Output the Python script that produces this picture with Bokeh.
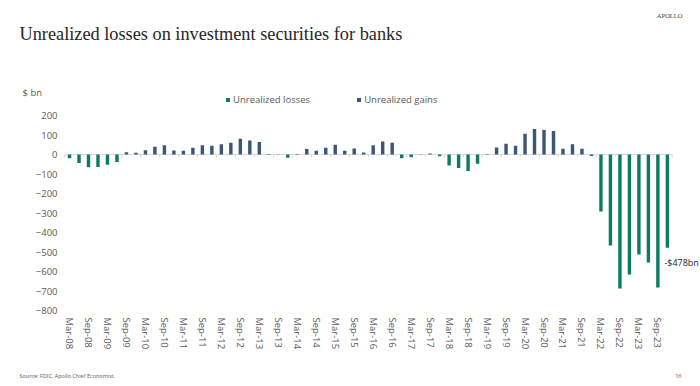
from bokeh.plotting import figure
from bokeh.layouts import column, row
from bokeh.models import (ColumnDataSource, Range1d, FixedTicker, Label, Legend,
                          LegendItem)
from bokeh.embed import file_html
from bokeh.resources import INLINE

# ---------------- data ----------------
quarters = [
    "Mar-08", "Jun-08", "Sep-08", "Dec-08", "Mar-09", "Jun-09", "Sep-09", "Dec-09",
    "Mar-10", "Jun-10", "Sep-10", "Dec-10", "Mar-11", "Jun-11", "Sep-11", "Dec-11",
    "Mar-12", "Jun-12", "Sep-12", "Dec-12", "Mar-13", "Jun-13", "Sep-13", "Dec-13",
    "Mar-14", "Jun-14", "Sep-14", "Dec-14", "Mar-15", "Jun-15", "Sep-15", "Dec-15",
    "Mar-16", "Jun-16", "Sep-16", "Dec-16", "Mar-17", "Jun-17", "Sep-17", "Dec-17",
    "Mar-18", "Jun-18", "Sep-18", "Dec-18", "Mar-19", "Jun-19", "Sep-19", "Dec-19",
    "Mar-20", "Jun-20", "Sep-20", "Dec-20", "Mar-21", "Jun-21", "Sep-21", "Dec-21",
    "Mar-22", "Jun-22", "Sep-22", "Dec-22", "Mar-23", "Jun-23", "Sep-23", "Dec-23",
]
unrealized = [
    -19, -43, -65, -64, -52, -38, 12, 9,
    22, 40, 47, 21, 19, 34, 48, 45,
    53, 60, 81, 72, 64, 2, -1, -17,
    -2, 28, 19, 34, 50, 19, 31, 10,
    47, 67, 60, -19, -14, -1, 5, -9,
    -57, -69, -84, -47, -3, 36, 55, 45,
    107, 131, 126, 121, 29, 53, 29, -8,
    -292, -467, -687, -615, -513, -554, -682, -478,
]
y_ticks = [200, 100, 0, -100, -200, -300, -400, -500, -600, -700, -800]
series_names = ["Unrealized losses", "Unrealized gains"]
title_text = "Unrealized losses on investment securities for banks"
end_label = "-$478bn"
unit_label = "$ bn"
source_text = "Source: FDIC, Apollo Chief Economist."
brand_text = "APOLLO"
page_no = "16"

GREEN = "#0E7B60"
NAVY = "#3B5677"
GREY = "#595959"
FONT = "Open Sans"
SERIF = "Liberation Serif"
W = 700

idx = list(range(len(quarters)))
n = len(quarters)
loss_src = ColumnDataSource(dict(
    x=[i for i in idx if unrealized[i] < 0],
    top=[v for v in unrealized if v < 0]))
gain_src = ColumnDataSource(dict(
    x=[i for i in idx if unrealized[i] >= 0],
    top=[v for v in unrealized if v >= 0]))


def blank(height, y0):
    """Axis-less strip whose data coordinates equal page pixels."""
    f = figure(width=W, height=height, output_backend="svg", toolbar_location=None,
               x_range=Range1d(0, W), y_range=Range1d(y0 + height, y0),
               x_axis_type=None, y_axis_type=None, min_border=0,
               outline_line_color=None, background_fill_color="white",
               border_fill_color="white")
    f.grid.visible = False
    return f


def txt(f, text, x, y, size, font=FONT, color=GREY, align="left",
        baseline="middle"):
    f.add_layout(Label(x=x, y=y, text=text, text_font=font, text_font_size=size,
                       text_color=color, text_align=align,
                       text_baseline=baseline))


# ---------------- header strip (page y 0..107) ----------------
top = blank(107, 0)
txt(top, title_text, 19, 33, "18.3px", font=SERIF, color="#262626")
txt(top, brand_text, 682, 15, "6.5px", font=SERIF, color="#404040", align="right")
txt(top, unit_label, 22, 92, "9.5px")
# legend swatches come from the same series (hidden copies in this strip)
leg_loss = top.vbar(x="x", top="top", bottom=0, width=0.36, source=loss_src,
                    fill_color=GREEN, line_color=None, visible=False)
leg_gain = top.vbar(x="x", top="top", bottom=0, width=0.36, source=gain_src,
                    fill_color=NAVY, line_color=None, visible=False)
legend = Legend(items=[LegendItem(label=series_names[0], renderers=[leg_loss]),
                       LegendItem(label=series_names[1], renderers=[leg_gain])],
                orientation="horizontal", location=(225, 1),
                glyph_width=5, glyph_height=5, label_standoff=3, spacing=46,
                padding=0, margin=0, border_line_color=None,
                background_fill_alpha=0, label_text_font=FONT,
                label_text_font_size="9.5px", label_text_color=GREY,
                label_height=12, inactive_fill_alpha=0)
top.add_layout(legend, "center")

# ---------------- main chart (page y 107..360) ----------------
MH = 253
p = figure(width=W, height=MH, output_backend="svg", toolbar_location=None,
           x_range=Range1d(-0.74, 66.49), y_range=Range1d(-800, 200),
           min_border_left=62, min_border_right=0, min_border_top=8,
           min_border_bottom=50, background_fill_color="white",
           border_fill_color="white", outline_line_color=None)
p.grid.visible = False

# zero (category) axis line with tick marks every two quarters
p.line(x=[-0.5, n - 0.5], y=[0, 0], line_color="#D9D9D9", line_width=1)
tick_x = [i - 0.5 for i in idx if i % 2 == 0] + [n - 0.5]
p.segment(x0=tick_x, y0=[0] * len(tick_x), x1=tick_x, y1=[-16] * len(tick_x),
          line_color="#D9D9D9", line_width=1)

p.vbar(x="x", top="top", bottom=0, width=0.36, source=loss_src,
       fill_color=GREEN, line_color=None)
p.vbar(x="x", top="top", bottom=0, width=0.36, source=gain_src,
       fill_color=NAVY, line_color=None)

p.yaxis.ticker = FixedTicker(ticks=y_ticks)
p.yaxis.axis_line_color = None
p.yaxis.major_tick_line_color = None
p.yaxis.minor_tick_line_color = None
p.yaxis.major_tick_out = 0
p.yaxis.major_tick_in = 0
p.yaxis.major_label_text_font = FONT
p.yaxis.major_label_text_font_size = "9.5px"
p.yaxis.major_label_text_color = GREY
p.yaxis.major_label_standoff = 5

p.xaxis.ticker = FixedTicker(ticks=[i for i in idx if i % 2 == 0])
p.xaxis.major_label_overrides = {i: quarters[i] for i in idx if i % 2 == 0}
p.xaxis.major_label_orientation = "vertical"
p.xaxis.axis_line_color = None
p.xaxis.major_tick_line_color = None
p.xaxis.minor_tick_line_color = None
p.xaxis.major_tick_out = 0
p.xaxis.major_tick_in = 0
p.xaxis.major_label_text_font = FONT
p.xaxis.major_label_text_font_size = "9.5px"
p.xaxis.major_label_text_color = GREY
p.xaxis.major_label_standoff = 7

p.add_layout(Label(x=idx[-1], y=unrealized[-1], text=end_label,
                   x_offset=-3, y_offset=-15, text_font=FONT,
                   text_font_size="9px", text_color="#262626",
                   text_align="left", text_baseline="middle"))

# ---------------- footer strip (page y 360..386) ----------------
bot = blank(26, 360)
txt(bot, source_text, 19, 375, "5.5px")
txt(bot, page_no, 681, 375, "5.5px", align="right")

page = column(top, row(p), bot, spacing=0)
open("out.html", "w").write(file_html(page, INLINE))
